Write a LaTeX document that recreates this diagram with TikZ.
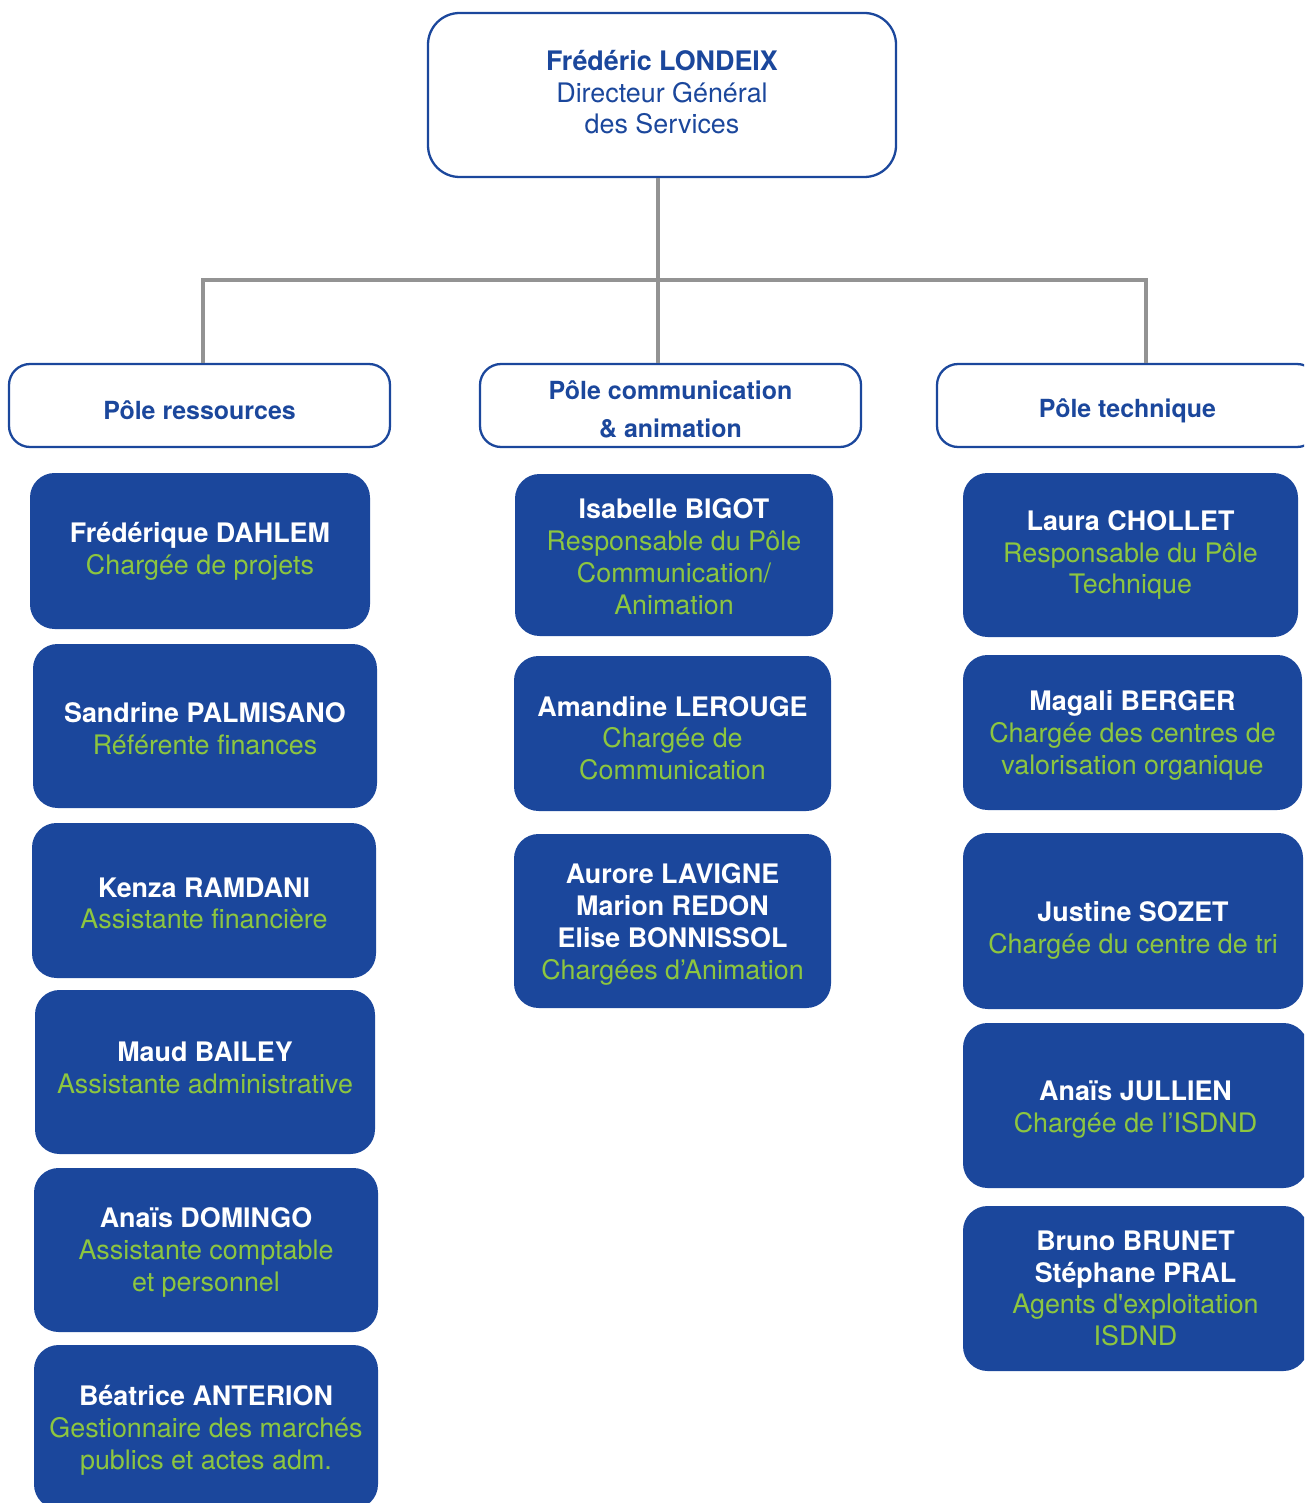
\documentclass[tikz,border=0pt]{standalone}
\usepackage{fontspec}
\setmainfont{TeX Gyre Heros}
\definecolor{bleu}{RGB}{27,71,156}
\definecolor{vert}{RGB}{141,198,63}
\definecolor{gris}{RGB}{147,147,147}

\begin{document}
\begin{tikzpicture}[x=0.02cm,y=-0.02cm,
	chef/.style={draw=bleu,line width=1.3pt,fill=white,rounded corners=18pt,text=bleu,align=center,inner sep=0,font=\fontsize{15.3}{18.1}\selectfont},
	pole/.style={draw=bleu,line width=1.3pt,fill=white,rounded corners=12pt,text=bleu,align=center,inner sep=0,minimum width=381*0.02cm,minimum height=83*0.02cm,font=\bfseries\fontsize{14.2}{21.5}\selectfont},
	agent/.style={fill=bleu,rounded corners=14pt,text=white,align=center,inner sep=0,font=\fontsize{15.3}{18.1}\selectfont},
	link/.style={draw=gris,line width=2.3pt}]
	\useasboundingbox (0,0) rectangle (1304,1503);
	\clip (0,0) rectangle (1304,1503);
	% direction
	\node[chef,minimum width=468*0.02cm,minimum height=164*0.02cm] (dg) at (662,95) {\textbf{Frédéric LONDEIX}\\Directeur Général\\des Services\rule[-3.4pt]{0pt}{0pt}};
	% poles
	\node[pole] (res) at (199.5,405.5) {\rule{0pt}{16.5pt}Pôle ressources};
	\node[pole] (com) at (670.5,405.5) {\rule{0pt}{15.3pt}Pôle communication\\\& animation};
	\node[pole] (tec) at (1127.5,405.5) {\rule{0pt}{16.5pt}Pôle technique};
	\coordinate (bus) at (658,280);
	\coordinate (busL) at (203,280);
	\coordinate (busR) at (1146,280);
	\draw[link] (bus |- dg.south) -- (bus |- com.north);
	\draw[link] (busL |- res.north) -- (busL) -- (busR) -- (busR |- tec.north);
	% pole ressources
	\node[agent,minimum width=340*0.02cm,minimum height=156*0.02cm] (fdahlem) at (200,551) {\textbf{Frédérique DAHLEM}\\\textcolor{vert}{Chargée de projets}};
	\node[agent,minimum width=344*0.02cm,minimum height=164*0.02cm] (spalmisano) at (205,726) {\rule{0pt}{14.4pt}\textbf{Sandrine PALMISANO}\\\textcolor{vert}{Référente finances}};
	\node[agent,minimum width=344*0.02cm,minimum height=155*0.02cm] (kramdani) at (204,900.5) {\rule{0pt}{14.4pt}\textbf{Kenza RAMDANI}\\\textcolor{vert}{Assistante financière}};
	\node[agent,minimum width=340*0.02cm,minimum height=164*0.02cm] (mbailey) at (205,1072) {\textbf{Maud BAILEY}\\\textcolor{vert}{Assistante administrative}\rule[-4.5pt]{0pt}{0pt}};
	\node[agent,minimum width=344*0.02cm,minimum height=164*0.02cm] (adomingo) at (206,1250) {\rule{0pt}{14.4pt}\textbf{Anaïs DOMINGO}\\\textcolor{vert}{Assistante comptable}\\\textcolor{vert}{et personnel}};
	\node[agent,minimum width=344*0.02cm,minimum height=164*0.02cm] (banterion) at (206,1427) {\rule{0pt}{15.5pt}\textbf{Béatrice ANTERION}\\\textcolor{vert}{Gestionnaire des marchés}\\\textcolor{vert}{publics et actes adm.}};
	% pole communication
	\node[agent,minimum width=318*0.02cm,minimum height=162*0.02cm] (ibigot) at (674,555) {\rule{0pt}{13.3pt}\textbf{Isabelle BIGOT}\\\textcolor{vert}{Responsable du Pôle}\\\textcolor{vert}{Communication/}\\\textcolor{vert}{Animation}};
	\node[agent,minimum width=317*0.02cm,minimum height=155*0.02cm] (alerouge) at (672.5,733.5) {\rule{0pt}{16.7pt}\textbf{Amandine LEROUGE}\\\textcolor{vert}{Chargée de}\\\textcolor{vert}{Communication}};
	\node[agent,minimum width=317*0.02cm,minimum height=174*0.02cm] (alavigne) at (672.5,921) {\rule{0pt}{15.5pt}\textbf{Aurore LAVIGNE}\\\textbf{Marion REDON}\\\textbf{Elise BONNISSOL}\\\textcolor{vert}{Chargées d’Animation}};
	% pole technique
	\node[agent,minimum width=335*0.02cm,minimum height=164*0.02cm] (lchollet) at (1130.5,555) {\textbf{Laura CHOLLET}\\\textcolor{vert}{Responsable du Pôle}\\\textcolor{vert}{Technique}};
	\node[agent,minimum width=339*0.02cm,minimum height=155*0.02cm] (mberger) at (1132.5,732.5) {\rule{0pt}{14.4pt}\textbf{Magali BERGER}\\\textcolor{vert}{Chargée des centres de}\\\textcolor{vert}{valorisation organique}};
	\node[agent,minimum width=340*0.02cm,minimum height=176*0.02cm] (jsozet) at (1133,921) {\rule{0pt}{22.3pt}\textbf{Justine SOZET}\\\textcolor{vert}{Chargée du centre de tri}};
	\node[agent,minimum width=345*0.02cm,minimum height=165*0.02cm] (ajullien) at (1135.5,1105.5) {\rule{0pt}{15.5pt}\textbf{Anaïs JULLIEN}\\\textcolor{vert}{Chargée de l’ISDND}};
	\node[agent,minimum width=345*0.02cm,minimum height=165*0.02cm] (bbrunet) at (1135.5,1288.5) {\textbf{Bruno BRUNET}\\\textbf{Stéphane PRAL}\\\textcolor{vert}{Agents d\textquotesingle exploitation}\\\textcolor{vert}{ISDND}};
\end{tikzpicture}
\end{document}
